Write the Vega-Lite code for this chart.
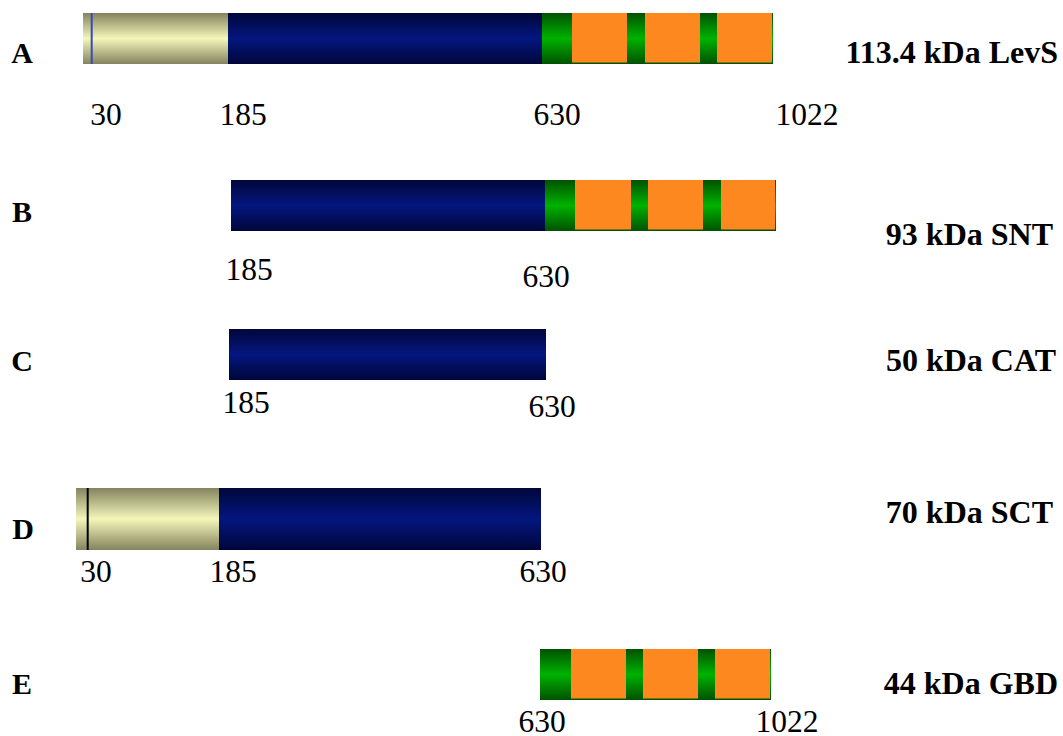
{
  "$schema": "https://vega.github.io/schema/vega-lite/v6.json",
  "width": 1063,
  "height": 736,
  "autosize": "none",
  "padding": 0,
  "background": "white",
  "config": {"view": {"stroke": null}},
  "datasets": {
    "rows": [
      {"row": "A", "top": 13, "bottom": 64},
      {"row": "B", "top": 180, "bottom": 231},
      {"row": "C", "top": 329, "bottom": 380},
      {"row": "D", "top": 488, "bottom": 550},
      {"row": "E", "top": 649, "bottom": 700}
    ],
    "segments": [
      {"row": "A", "kind": "signal", "start": 83, "end": 228},
      {"row": "A", "kind": "catalytic", "start": 228, "end": 542},
      {"row": "A", "kind": "glucan", "start": 542, "end": 773},
      {"row": "A", "kind": "repeat", "start": 572, "end": 627},
      {"row": "A", "kind": "repeat", "start": 645, "end": 700},
      {"row": "A", "kind": "repeat", "start": 717, "end": 772},
      {"row": "B", "kind": "catalytic", "start": 231, "end": 545},
      {"row": "B", "kind": "glucan", "start": 545, "end": 776},
      {"row": "B", "kind": "repeat", "start": 575, "end": 631},
      {"row": "B", "kind": "repeat", "start": 648, "end": 703},
      {"row": "B", "kind": "repeat", "start": 721, "end": 775},
      {"row": "C", "kind": "catalytic", "start": 229, "end": 546},
      {"row": "D", "kind": "signal", "start": 76, "end": 219},
      {"row": "D", "kind": "catalytic", "start": 219, "end": 541},
      {"row": "E", "kind": "glucan", "start": 540, "end": 771},
      {"row": "E", "kind": "repeat", "start": 571, "end": 626},
      {"row": "E", "kind": "repeat", "start": 643, "end": 698},
      {"row": "E", "kind": "repeat", "start": 715, "end": 770}
    ],
    "cleavage": [
      {"row": "A", "pos": 91.7, "site": "LevS"},
      {"row": "D", "pos": 87.7, "site": "SCT"}
    ],
    "labels": [
      {"kind": "letter", "text": "A", "x": 22, "y": 63},
      {"kind": "letter", "text": "B", "x": 22, "y": 222},
      {"kind": "letter", "text": "C", "x": 22, "y": 371},
      {"kind": "letter", "text": "D", "x": 23, "y": 539},
      {"kind": "letter", "text": "E", "x": 22, "y": 694},
      {"kind": "name", "text": "113.4 kDa LevS", "x": 1058, "y": 63},
      {"kind": "name", "text": "93 kDa SNT", "x": 1053, "y": 245},
      {"kind": "name", "text": "50 kDa CAT", "x": 1056, "y": 371},
      {"kind": "name", "text": "70 kDa SCT", "x": 1053, "y": 523},
      {"kind": "name", "text": "44 kDa GBD", "x": 1058, "y": 694},
      {"kind": "number", "text": "30", "x": 106, "y": 125},
      {"kind": "number", "text": "185", "x": 243, "y": 125},
      {"kind": "number", "text": "630", "x": 557, "y": 125},
      {"kind": "number", "text": "1022", "x": 807, "y": 125},
      {"kind": "number", "text": "185", "x": 249, "y": 280},
      {"kind": "number", "text": "630", "x": 546, "y": 287},
      {"kind": "number", "text": "185", "x": 246, "y": 413},
      {"kind": "number", "text": "630", "x": 552, "y": 417},
      {"kind": "number", "text": "30", "x": 96, "y": 582},
      {"kind": "number", "text": "185", "x": 233, "y": 582},
      {"kind": "number", "text": "630", "x": 543, "y": 582},
      {"kind": "number", "text": "630", "x": 542, "y": 732},
      {"kind": "number", "text": "1022", "x": 787, "y": 732}
    ]
  },
  "layer": [
    {
      "data": {"name": "segments"},
      "transform": [
        {"filter": "datum.kind === 'signal'"},
        {"lookup": "row", "from": {"data": {"name": "rows"}, "key": "row", "fields": ["top", "bottom"]}}
      ],
      "mark": {"type": "rect", "fill": {"gradient": "linear", "x1": 0, "y1": 0, "x2": 0, "y2": 1, "stops": [
        {"offset": 0, "color": "#84835e"},
        {"offset": 0.5, "color": "#f4f7ba"},
        {"offset": 1, "color": "#84835e"}]}},
      "encoding": {
        "x": {"field": "start", "type": "quantitative", "scale": {"domain": [0, 1063], "nice": false, "zero": false}, "axis": null},
        "x2": {"field": "end"},
        "y": {"field": "top", "type": "quantitative", "scale": {"domain": [0, 736], "reverse": true, "nice": false, "zero": false}, "axis": null},
        "y2": {"field": "bottom"}
      }
    },
    {
      "data": {"name": "segments"},
      "transform": [
        {"filter": "datum.kind === 'catalytic'"},
        {"lookup": "row", "from": {"data": {"name": "rows"}, "key": "row", "fields": ["top", "bottom"]}}
      ],
      "mark": {"type": "rect", "fill": {"gradient": "linear", "x1": 0, "y1": 0, "x2": 0, "y2": 1, "stops": [
        {"offset": 0, "color": "#00073a"},
        {"offset": 0.5, "color": "#04167f"},
        {"offset": 1, "color": "#00063a"}]}},
      "encoding": {
        "x": {"field": "start", "type": "quantitative"},
        "x2": {"field": "end"},
        "y": {"field": "top", "type": "quantitative"},
        "y2": {"field": "bottom"}
      }
    },
    {
      "data": {"name": "segments"},
      "transform": [
        {"filter": "datum.kind === 'glucan'"},
        {"lookup": "row", "from": {"data": {"name": "rows"}, "key": "row", "fields": ["top", "bottom"]}}
      ],
      "mark": {"type": "rect", "fill": {"gradient": "linear", "x1": 0, "y1": 0, "x2": 0, "y2": 1, "stops": [
        {"offset": 0, "color": "#005200"},
        {"offset": 0.5, "color": "#00b200"},
        {"offset": 1, "color": "#005200"}]}},
      "encoding": {
        "x": {"field": "start", "type": "quantitative"},
        "x2": {"field": "end"},
        "y": {"field": "top", "type": "quantitative"},
        "y2": {"field": "bottom"}
      }
    },
    {
      "data": {"name": "segments"},
      "transform": [
        {"filter": "datum.kind === 'repeat'"},
        {"lookup": "row", "from": {"data": {"name": "rows"}, "key": "row", "fields": ["top", "bottom"]}}
      ],
      "mark": {"type": "rect", "fill": "#fd8820", "y2Offset": -1.5},
      "encoding": {
        "x": {"field": "start", "type": "quantitative"},
        "x2": {"field": "end"},
        "y": {"field": "top", "type": "quantitative"},
        "y2": {"field": "bottom"}
      }
    },
    {
      "data": {"name": "cleavage"},
      "transform": [
        {"lookup": "row", "from": {"data": {"name": "rows"}, "key": "row", "fields": ["top", "bottom"]}}
      ],
      "mark": {"type": "rule", "strokeWidth": 2},
      "encoding": {
        "x": {"field": "pos", "type": "quantitative"},
        "y": {"field": "top", "type": "quantitative"},
        "y2": {"field": "bottom"},
        "color": {"field": "site", "type": "nominal", "scale": {"domain": ["LevS", "SCT"], "range": ["#3a48b8", "#000000"]}, "legend": null}
      }
    },
    {
      "data": {"name": "labels"},
      "transform": [{"filter": "datum.kind === 'letter'"}],
      "mark": {"type": "text", "font": "Liberation Serif", "fontWeight": "bold", "fontSize": 30, "align": "center", "baseline": "alphabetic", "color": "#000000"},
      "encoding": {
        "x": {"field": "x", "type": "quantitative"},
        "y": {"field": "y", "type": "quantitative"},
        "text": {"field": "text"}
      }
    },
    {
      "data": {"name": "labels"},
      "transform": [{"filter": "datum.kind === 'name'"}],
      "mark": {"type": "text", "font": "Liberation Serif", "fontWeight": "bold", "fontSize": 32, "align": "right", "baseline": "alphabetic", "color": "#000000"},
      "encoding": {
        "x": {"field": "x", "type": "quantitative"},
        "y": {"field": "y", "type": "quantitative"},
        "text": {"field": "text"}
      }
    },
    {
      "data": {"name": "labels"},
      "transform": [{"filter": "datum.kind === 'number'"}],
      "mark": {"type": "text", "font": "Liberation Serif", "fontSize": 31.5, "align": "center", "baseline": "alphabetic", "color": "#000000"},
      "encoding": {
        "x": {"field": "x", "type": "quantitative"},
        "y": {"field": "y", "type": "quantitative"},
        "text": {"field": "text"}
      }
    }
  ]
}
